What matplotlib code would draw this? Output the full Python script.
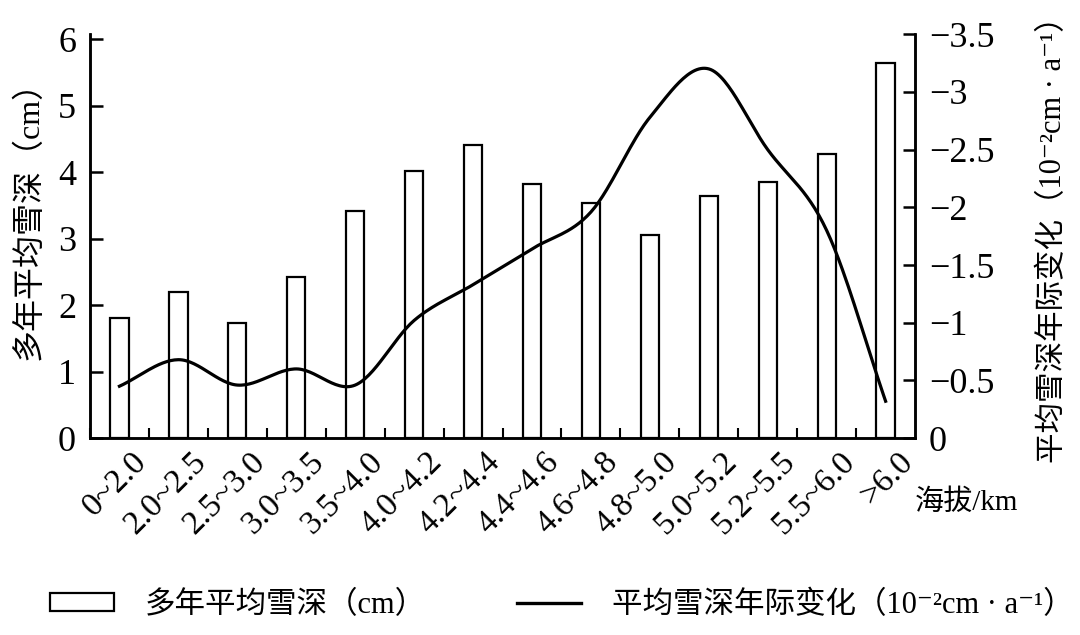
"""Snow depth and its interannual change by elevation band"""

import numpy as np
import matplotlib
matplotlib.use('Agg')
import matplotlib.pyplot as plt
from matplotlib.patches import Rectangle
from matplotlib.lines import Line2D
from matplotlib.transforms import ScaledTranslation

FONTS = ['Liberation Serif', 'Noto Sans CJK SC', 'DejaVu Sans']

elev_bands = ['0~2.0', '2.0~2.5', '2.5~3.0', '3.0~3.5', '3.5~4.0', '4.0~4.2',
              '4.2~4.4', '4.4~4.6', '4.6~4.8', '4.8~5.0', '5.0~5.2', '5.2~5.5',
              '5.5~6.0', '>6.0']
snow_depth = [1.80, 2.20, 1.73, 2.42, 3.42, 4.02, 4.41, 3.83, 3.54, 3.05,
              3.64, 3.85, 4.27, 5.65]
depth_change = [-0.45, -0.68, -0.46, -0.60, -0.46, -1.02, -1.33, -1.64,
                -1.96, -2.78, -3.20, -2.50, -1.80, -0.32]

left_ticks = [0, 1, 2, 3, 4, 5, 6]
right_ticks = [0, -0.5, -1, -1.5, -2, -2.5, -3, -3.5]
right_ticklabels = ['0', '\u22120.5', '\u22121', '\u22121.5', '\u22122',
                    '\u22122.5', '\u22123', '\u22123.5']

depth_label = '多年平均雪深（cm）'
change_label = '平均雪深年际变化（10\u207b\u00b2cm \u00b7 a\u207b\u00b9）'


def smooth(x, y, n=30):
    """Catmull-Rom curve through the points, like a smoothed line chart."""
    x = np.asarray(x, float)
    y = np.asarray(y, float)
    px = np.concatenate([[2 * x[0] - x[1]], x, [2 * x[-1] - x[-2]]])
    py = np.concatenate([[2 * y[0] - y[1]], y, [2 * y[-1] - y[-2]]])
    xs, ys = [], []
    t = np.linspace(0, 1, n, endpoint=False)
    for i in range(1, len(px) - 2):
        for p, out in ((px, xs), (py, ys)):
            p0, p1, p2, p3 = p[i - 1], p[i], p[i + 1], p[i + 2]
            out.extend(0.5 * (2 * p1 + (-p0 + p2) * t
                              + (2 * p0 - 5 * p1 + 4 * p2 - p3) * t ** 2
                              + (-p0 + 3 * p1 - 3 * p2 + p3) * t ** 3))
    xs.append(x[-1])
    ys.append(y[-1])
    return np.array(xs), np.array(ys)


plt.rcParams['font.family'] = FONTS
plt.rcParams['axes.linewidth'] = 1.8

fig = plt.figure(figsize=(10.8, 6.35), dpi=100)
ax = fig.add_axes([0.0833, 0.310, 0.764, 0.636])
x = np.arange(len(elev_bands))

ax.bar(x, snow_depth, width=0.31, facecolor='white', edgecolor='black',
       linewidth=1.6, zorder=2)
ax.set_xlim(-0.5, len(elev_bands) - 0.5)
ax.set_ylim(0, 6.075)
ax.set_yticks(left_ticks)
ax.set_yticklabels([str(v) for v in left_ticks], fontsize=26)
ax.tick_params(axis='y', direction='in', length=9, width=1.8, pad=10)
ax.set_xticks(x - 0.5, minor=True)
ax.set_xticks(x)
ax.set_xticklabels(elev_bands, rotation=45, ha='right',
                   rotation_mode='anchor', fontsize=24)
ax.tick_params(axis='x', which='major', length=0, pad=6)
ax.tick_params(axis='x', which='minor', direction='in', length=7, width=1.5)
for lbl in ax.get_xticklabels():
    lbl.set_transform(lbl.get_transform()
                      + ScaledTranslation(0.12, 0, fig.dpi_scale_trans))
ax.spines['top'].set_visible(False)
ax.set_ylabel(depth_label, fontsize=23, va='center')
ax.yaxis.set_label_coords(-0.073, 0.56)

ax2 = ax.twinx()
sx, sy = smooth(x, depth_change)
ax2.plot(sx, sy, color='black', linewidth=2.3, zorder=3)
ax2.set_ylim(0, -3.5)
ax2.set_yticks(right_ticks)
ax2.set_yticklabels(right_ticklabels, fontsize=26)
ax2.tick_params(axis='y', direction='in', length=9, width=1.8, pad=10)
ax2.spines['top'].set_visible(False)
ax2.set_ylabel(change_label, fontsize=22, rotation=90, va='center')
ax2.yaxis.set_label_coords(1.168, 0.51)

ax.text(1.0, -0.16, '海拔/km', transform=ax.transAxes,
        fontsize=21, ha='left', va='center')

handles = [Rectangle((0, 0), 1, 1, facecolor='white', edgecolor='black',
                     linewidth=1.6),
           Line2D([], [], color='black', linewidth=2.4)]
fig.legend(handles, [depth_label, change_label], loc='center',
           bbox_to_anchor=(0.52, 0.047), ncol=2, frameon=False,
           handlelength=2.1, handleheight=0.55, handletextpad=1.0,
           columnspacing=3.0, prop={'size': 22})

fig.savefig('out.png', dpi=100)
